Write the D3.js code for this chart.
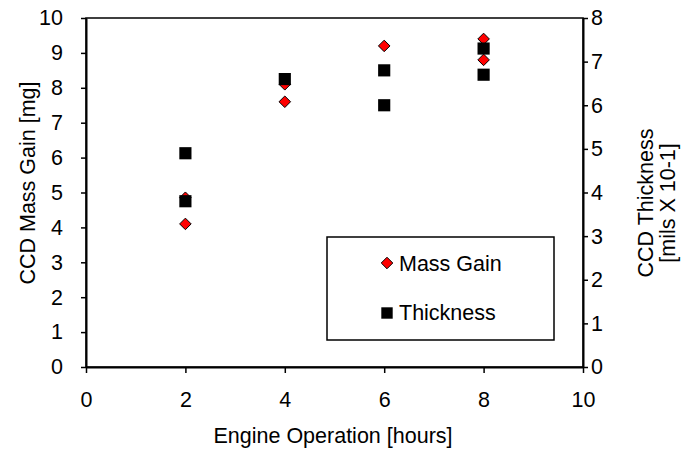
<!DOCTYPE html>
<html>
<head>
<meta charset="utf-8">
<script src="https://cdn.jsdelivr.net/npm/d3@7"></script>
<style>
  body { margin: 0; background: #fff; }
  text { font-family: "Liberation Sans", Arial, sans-serif; }
</style>
</head>
<body>
<svg id="chart" width="690" height="449"></svg>
<script>
var massHours = [2, 2, 4, 4, 6, 8, 8];
var massGain = [4.1, 4.85, 7.6, 8.1, 9.2, 8.8, 9.4];
var thickHours = [2, 2, 4, 6, 6, 8, 8];
var thickness = [3.8, 4.9, 6.6, 6.0, 6.8, 6.7, 7.3];

var xTicks = [0, 2, 4, 6, 8, 10];
var leftTicks = [0, 1, 2, 3, 4, 5, 6, 7, 8, 9, 10];
var rightTicks = [0, 1, 2, 3, 4, 5, 6, 7, 8];
var legendLabels = ["Mass Gain", "Thickness"];

var svg = d3.select("svg#chart");
var pLeft = 86, pRight = 583, pTop = 18, pBottom = 367;
var fs = 21.5;

var x = d3.scaleLinear().domain([0, 10]).range([pLeft, pRight]);
var yL = d3.scaleLinear().domain([0, 10]).range([pBottom, pTop]);
var yR = d3.scaleLinear().domain([0, 8]).range([pBottom, pTop]);

// plot frame
svg.append("rect")
    .attr("x", pLeft).attr("y", pTop)
    .attr("width", pRight - pLeft).attr("height", pBottom - pTop)
    .attr("fill", "none").attr("stroke", "#000").attr("stroke-width", 1.5);

function styleAxis(g) {
    g.selectAll("path").attr("stroke", "#000").attr("stroke-width", 2);
    g.selectAll("line").attr("stroke", "#000").attr("stroke-width", 1.5);
    g.selectAll("text").attr("font-size", fs).attr("fill", "#000")
        .attr("font-family", "Liberation Sans, Arial, sans-serif");
}

svg.append("g")
    .attr("transform", "translate(0," + pBottom + ")")
    .call(d3.axisBottom(x).tickValues(xTicks).tickSize(6).tickPadding(19).tickSizeOuter(0))
    .call(styleAxis);

svg.append("g")
    .attr("transform", "translate(" + pLeft + ",0)")
    .call(d3.axisLeft(yL).tickValues(leftTicks).tickSize(5).tickPadding(18).tickSizeOuter(0))
    .call(styleAxis);

svg.append("g")
    .attr("transform", "translate(" + pRight + ",0)")
    .call(d3.axisRight(yR).tickValues(rightTicks).tickSize(5).tickPadding(3).tickSizeOuter(0))
    .call(styleAxis);

var diamond = d3.symbol().type(d3.symbolDiamond2).size(85);
var square = d3.symbol().type(d3.symbolSquare).size(148);

svg.selectAll("path.mass")
    .data(massGain)
    .enter()
    .append("path")
    .attr("class", "mass")
    .attr("d", diamond)
    .attr("transform", (d, i) => "translate(" + x(massHours[i]) + "," + yL(d) + ")")
    .attr("fill", "#ff0000")
    .attr("stroke", "#000")
    .attr("stroke-width", 1);

// thickness squares sit on top of the diamonds
svg.selectAll("path.thick")
    .data(thickness)
    .enter()
    .append("path")
    .attr("class", "thick")
    .attr("d", square)
    .attr("transform", (d, i) => "translate(" + x(thickHours[i]) + "," + yR(d) + ")")
    .attr("fill", "#000");

// legend
var lg = svg.append("g");
lg.append("rect")
    .attr("x", 327).attr("y", 237)
    .attr("width", 227).attr("height", 103)
    .attr("fill", "#fff").attr("stroke", "#000").attr("stroke-width", 1.5);
lg.append("path").attr("d", diamond)
    .attr("transform", "translate(387,263)")
    .attr("fill", "#ff0000").attr("stroke", "#000");
lg.append("path").attr("d", d3.symbol().type(d3.symbolSquare).size(130))
    .attr("transform", "translate(387,313)")
    .attr("fill", "#000");
lg.selectAll("text")
    .data(legendLabels)
    .enter()
    .append("text")
    .attr("x", 399)
    .attr("y", (d, i) => 271 + i * 49)
    .attr("font-size", fs)
    .text(d => d);

// axis titles
svg.append("text")
    .attr("x", 333).attr("y", 443)
    .attr("text-anchor", "middle").attr("font-size", fs)
    .text("Engine Operation [hours]");

svg.append("text")
    .attr("transform", "translate(35,183) rotate(-90)")
    .attr("text-anchor", "middle").attr("font-size", fs)
    .text("CCD Mass Gain [mg]");

svg.append("text")
    .attr("transform", "translate(653,203) rotate(-90)")
    .attr("text-anchor", "middle").attr("font-size", fs)
    .text("CCD Thickness");

svg.append("text")
    .attr("transform", "translate(675,203) rotate(-90)")
    .attr("text-anchor", "middle").attr("font-size", fs)
    .text("[mils X 10-1]");
</script>
</body>
</html>
